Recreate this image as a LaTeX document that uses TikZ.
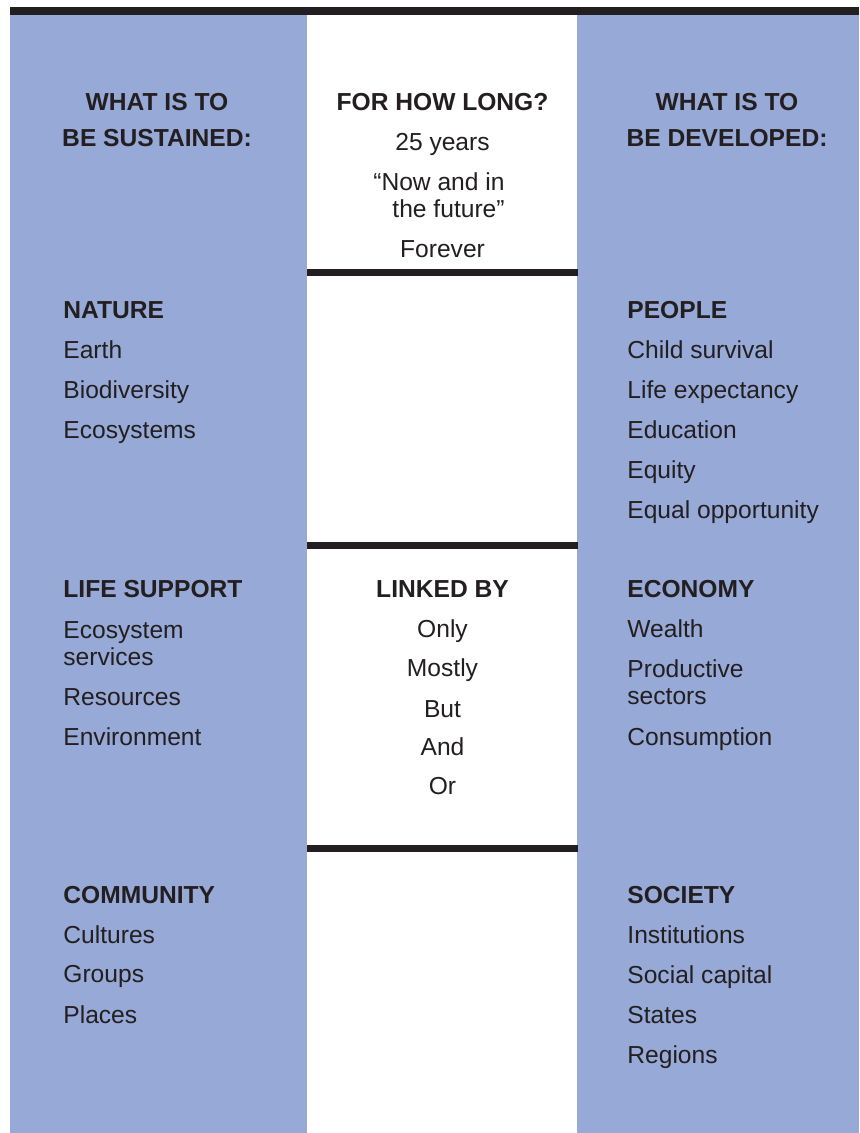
\documentclass[tikz,border=0pt]{standalone}
\usepackage{fontspec}
\setmainfont{Liberation Sans}
\definecolor{colblue}{HTML}{97A9D6}
\definecolor{ink}{HTML}{231F20}
\begin{document}
\begin{tikzpicture}[x=0.5pt,y=-0.5pt,
  every node/.style={inner sep=0pt, text=ink, font=\fontsize{12.3pt}{13.5pt}\selectfont},
  item/.style={anchor=base west},
  head/.style={anchor=base west, font=\fontsize{12.3pt}{13.5pt}\selectfont\bfseries},
  mid/.style={anchor=base},
  midhead/.style={anchor=base, font=\fontsize{12.3pt}{13.5pt}\selectfont\bfseries},
  rule/.style={line width=3.5pt, draw=ink}]
\useasboundingbox (0,0) rectangle (859,1133);
\fill[white] (0,0) rectangle (859,1133);
% columns
\fill[colblue] (10,15) rectangle (307,1133);
\fill[colblue] (577,15) rectangle (859,1133);
% top bar
\fill[ink] (10,7) rectangle (859,15);
% middle rules
\coordinate (r1a) at (307,273); \coordinate (r1b) at (578,273);
\coordinate (r2a) at (307,545.5); \coordinate (r2b) at (578,545.5);
\coordinate (r3a) at (307,848); \coordinate (r3b) at (578,848);
\draw[rule] (r1a) -- (r1b);
\draw[rule] (r2a) -- (r2b);
\draw[rule] (r3a) -- (r3b);
% headers
\node[midhead] (lh1) at (157,111) {WHAT IS TO};
\node[midhead] (lh2) at (157,147) {BE SUSTAINED:};
\node[midhead] (rh1) at (727,111) {WHAT IS TO};
\node[midhead] (rh2) at (727,147) {BE DEVELOPED:};
\node[midhead] (mh) at (442.5,111) {FOR HOW LONG?};
\node[mid] (m1) at (442.5,151) {25 years};
\node[anchor=base east] (m2a) at (505,191) {“Now and in};
\node[anchor=base east] (m2b) at (505,218) {the future”};
\node[mid] (m3) at (442.5,258) {Forever};
% left column
\node[head] (nat) at (63,319) {NATURE};
\node[item] (n1) at (63,359) {Earth};
\node[item] (n2) at (63,399) {Biodiversity};
\node[item] (n3) at (63,438) {Ecosystems};
\node[head] (ls) at (63,597) {LIFE SUPPORT};
\node[item] (l1a) at (63,638) {Ecosystem};
\node[item] (l1b) at (63,665) {services};
\node[item] (l2) at (63,705) {Resources};
\node[item] (l3) at (63,745) {Environment};
\node[head] (com) at (63,903) {COMMUNITY};
\node[item] (c1) at (63,943) {Cultures};
\node[item] (c2) at (63,982) {Groups};
\node[item] (c3) at (63,1023) {Places};
% middle
\node[midhead] (lb) at (442.5,597) {LINKED BY};
\node[mid] (k1) at (442.5,637) {Only};
\node[mid] (k2) at (442.5,676) {Mostly};
\node[mid] (k3) at (442.5,717) {But};
\node[mid] (k4) at (442.5,755) {And};
\node[mid] (k5) at (442.5,794) {Or};
% right column
\node[head] (peo) at (627,319) {PEOPLE};
\node[item] (p1) at (627,359) {Child survival};
\node[item] (p2) at (627,399) {Life expectancy};
\node[item] (p3) at (627,438) {Education};
\node[item] (p4) at (627,478) {Equity};
\node[item] (p5) at (627,518) {Equal opportunity};
\node[head] (eco) at (627,597) {ECONOMY};
\node[item] (e1) at (627,637) {Wealth};
\node[item] (e2a) at (627,677) {Productive};
\node[item] (e2b) at (627,704) {sectors};
\node[item] (e3) at (627,745) {Consumption};
\node[head] (soc) at (627,903) {SOCIETY};
\node[item] (s1) at (627,943) {Institutions};
\node[item] (s2) at (627,983) {Social capital};
\node[item] (s3) at (627,1023) {States};
\node[item] (s4) at (627,1063) {Regions};
\end{tikzpicture}
\end{document}
